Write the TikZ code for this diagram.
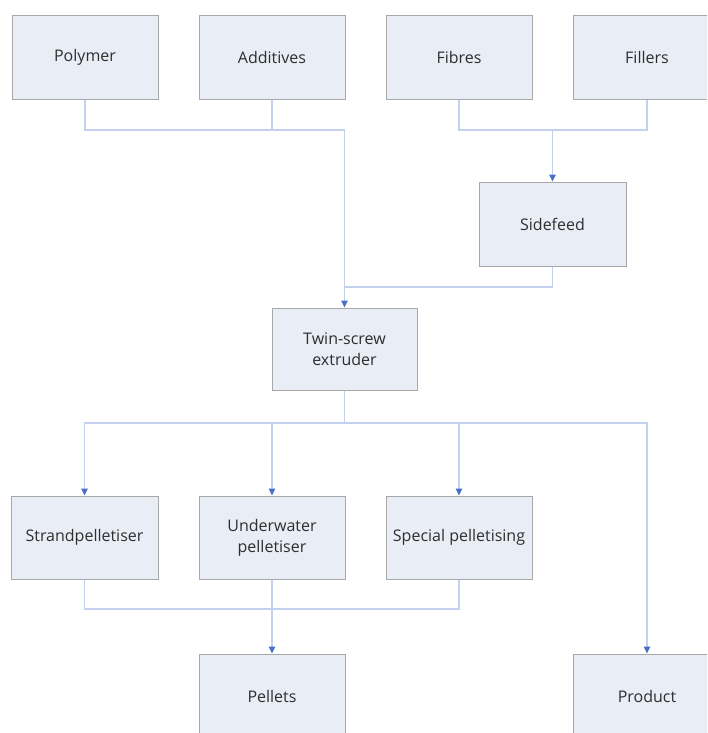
\documentclass[tikz,border=0pt]{standalone}
\usepackage{fontspec}
\setmainfont{Open Sans}
\usetikzlibrary{arrows.meta}
\definecolor{boxfill}{HTML}{E9EDF6}
\definecolor{boxline}{HTML}{A8A8A8}
\definecolor{conncol}{HTML}{C3D1EE}
\definecolor{arrcol}{HTML}{4A6FC8}
\definecolor{txtcol}{HTML}{2E2E2E}
\tikzset{
  x=1pt, y=-1pt,
  box/.style={draw=boxline, fill=boxfill, line width=1pt, text=txtcol,
    font=\fontsize{16}{21}\selectfont, align=center, inner sep=0pt,
    minimum width=146pt, minimum height=84pt},
  conn/.style={draw=conncol, line width=1.2pt},
  arr/.style={conn, -{Triangle[width=6.5pt,length=7pt,color=arrcol]}}
}
\begin{document}
\begin{tikzpicture}
\useasboundingbox (0,0) rectangle (707,733);
\clip (0,0) rectangle (707,733);
\fill[white] (0,0) rectangle (707,733);
% top row
\node[box] (poly) at (85,57.5) {Polymer};
\node[box] (add) at (272,57.5) {Additives};
\node[box] (fib) at (459,57.5) {Fibres};
\node[box, minimum width=148pt] (fil) at (647,57.5) {Fillers};
\node[box, minimum width=147pt] (side) at (552.5,224) {Sidefeed};
\node[box, minimum width=145pt, minimum height=82pt] (twin) at (344.5,349) {Twin-screw\\extruder};
\node[box, minimum width=147pt, minimum height=83pt] (strand) at (84.5,537.5) {Strandpelletiser};
\node[box, minimum height=83pt] (under) at (272,537.5) {Underwater\\pelletiser};
\node[box, minimum height=83pt] (spec) at (459,537.5) {Special pelletising};
\node[box, minimum height=85pt] (pell) at (272,696.5) {Pellets};
\node[box, minimum width=148pt, minimum height=85pt] (prod) at (647,696.5) {Product};
% junctions
\coordinate (j1) at (344.5,130);
\coordinate (j2) at (344.5,287);
\coordinate (j3) at (552.5,130);
\coordinate (j4) at (344.5,423);
\coordinate (j5) at (272,609);
% connectors
\draw[conn] (poly.south) |- (j1);
\draw[conn] (add.south) |- (j1);
\draw[conn] (fib.south) |- (j3);
\draw[conn] (fil.south) |- (j3);
\draw[arr] (j3) -- (side.north);
\draw[conn] (side.south) |- (j2);
\draw[arr] (j1) -- (twin.north);
\draw[conn] (twin.south) -- (j4);
\draw[arr] (j4) -| (strand.north);
\draw[arr] (j4) -| (under.north);
\draw[arr] (j4) -| (spec.north);
\draw[arr] (j4) -| (prod.north);
\draw[conn] (strand.south) |- (j5);
\draw[conn] (spec.south) |- (j5);
\draw[conn] (under.south) -- (j5);
\draw[arr] (j5) -- (pell.north);
\end{tikzpicture}
\end{document}
